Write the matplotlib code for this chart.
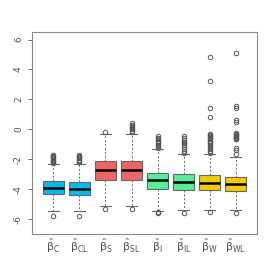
import numpy as np
import matplotlib
matplotlib.use("Agg")
import matplotlib.pyplot as plt

plt.rcParams['mathtext.default'] = 'regular'

# estadisticos
etiquetas = [r'$\hat{\beta}_{C}$', r'$\hat{\beta}_{CL}$', r'$\hat{\beta}_{S}$', r'$\hat{\beta}_{SL}$',
             r'$\hat{\beta}_{I}$', r'$\hat{\beta}_{IL}$', r'$\hat{\beta}_{W}$', r'$\hat{\beta}_{WL}$']
q1 = [-4.34, -4.36, -3.36, -3.36, -3.96, -4.03, -4.07, -4.12]
mediana = [-3.93, -3.96, -2.75, -2.75, -3.42, -3.54, -3.62, -3.67]
q3 = [-3.48, -3.54, -2.15, -2.10, -2.91, -3.02, -3.07, -3.20]
bigote_inf = [-5.48, -5.48, -5.10, -5.10, -5.48, -5.40, -5.40, -5.38]
bigote_sup = [-2.33, -2.33, -0.32, -0.32, -1.34, -1.66, -1.68, -1.83]
atipicos = [
    [-1.72, -1.80, -1.88, -1.95, -2.02, -2.10, -2.18, -2.24, -5.77],
    [-1.72, -1.80, -1.88, -1.95, -2.03, -2.12, -2.20, -5.77],
    [-0.20, -5.30],
    [0.40, 0.30, 0.20, 0.10, 0.00, -0.10, -0.20, -5.30],
    [-0.45, -0.55, -0.65, -0.75, -0.85, -0.95, -1.05, -1.15, -1.25, -5.55, -5.60],
    [-0.47, -0.58, -0.70, -0.82, -0.95, -1.08, -1.20, -1.32, -1.45, -1.57, -5.62],
    [4.80, 3.20, 1.45, 0.80, -0.33, -0.40, -0.47, -0.54, -0.61, -0.68, -0.75, -0.85, -0.95,
     -1.05, -1.15, -1.25, -1.35, -1.45, -1.57, -5.53],
    [5.12, 1.58, 1.40, 0.62, 0.50, -0.27, -0.33, -0.39, -0.45, -0.51, -0.57, -0.63, -0.67, -1.23,
     -1.39, -1.68, -5.60],
]
colores = ['#00BBEE', '#00BBEE', '#EE6666', '#EE6666',
           '#55EE99', '#55EE99', '#EECC00', '#EECC00']

stats = []
for i in range(len(etiquetas)):
    stats.append(dict(q1=q1[i], med=mediana[i], q3=q3[i], whislo=bigote_inf[i],
                      whishi=bigote_sup[i], fliers=atipicos[i]))

gris = '#666666'
fig = plt.figure(figsize=(2.74, 2.74), dpi=100)
ax = fig.add_axes([0.117, 0.146, 0.821, 0.737])

bp = ax.bxp(stats, positions=np.arange(1, 9), widths=0.8, patch_artist=True,
            boxprops=dict(edgecolor=gris, linewidth=0.8),
            medianprops=dict(color='black', linewidth=1.8),
            whiskerprops=dict(color=gris, linestyle=(0, (2, 2)), linewidth=0.7),
            capprops=dict(color=gris, linewidth=0.8),
            capwidths=0.4,
            flierprops=dict(marker='o', markersize=3.2, markerfacecolor='none',
                            markeredgecolor='#555555', markeredgewidth=0.7))
for caja, c in zip(bp['boxes'], colores):
    caja.set_facecolor(c)

ax.set_xlim(0.18, 8.82)
ax.set_ylim(-7.0, 6.5)
ax.set_yticks([-6, -4, -2, 0, 2, 4, 6])
ax.set_yticklabels(['-6', '-4', '-2', '0', '2', '4', '6'], rotation=90, va='center')
ax.set_xticks(np.arange(1, 9))
ax.set_xticklabels(etiquetas, fontsize=8, color='#555555')
ax.tick_params(axis='x', length=0, pad=2)
ax.tick_params(axis='y', labelsize=6.5, colors='#555555', length=3, width=0.6)
for s in ax.spines.values():
    s.set_color('#888888')
    s.set_linewidth(0.8)

fig.savefig('out.png', dpi=100)
